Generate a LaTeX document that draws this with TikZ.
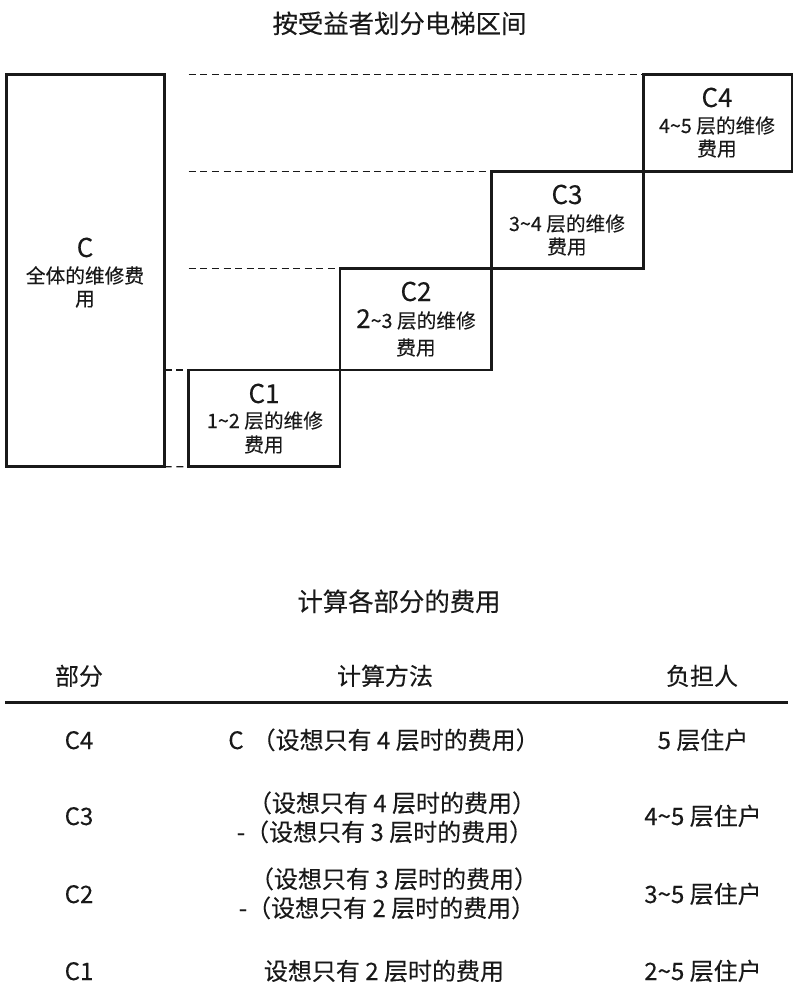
\documentclass[tikz,border=0pt]{standalone}
\usepackage{fontspec}
\setmainfont{Noto Sans CJK SC}[FakeBold=0.2]
\tikzset{
  stepbox/.style={draw=black!90,line width=2.9pt,inner sep=0pt,outer sep=0pt,anchor=north west},
  guide/.style={draw=black!90,line width=1.3pt,dash pattern=on 7pt off 4.6pt},
  rulehead/.style={draw=black!90,line width=3pt},
  txt/.style={anchor=base,inner sep=0pt,text=black!90},
  title/.style={txt,font=\fontsize{25.4}{27}\selectfont},
  big/.style={txt,font=\fontsize{26}{27}\selectfont},
  small/.style={txt,font=\fontsize{19.7}{21}\selectfont},
  cell/.style={txt,font=\fontsize{24}{25}\selectfont},
}
\begin{document}
\begin{tikzpicture}[x=1pt,y=-1pt]
\useasboundingbox (0,0) rectangle (800,1000);
% boxes
\node[stepbox,minimum width=158pt,minimum height=392.4pt] (C)  at (6.7,74.3) {};
\node[stepbox,minimum width=151.3pt,minimum height=96.7pt] (B1) at (188.7,370) {};
\node[stepbox,minimum width=151.7pt,minimum height=101.7pt] (B2) at (340,268.3) {};
\node[stepbox,minimum width=151.6pt,minimum height=96.6pt] (B3) at (491.7,171.7) {};
\node[stepbox,minimum width=148.7pt,minimum height=97.4pt] (B4) at (643.3,74.3) {};
% guides
\coordinate (g4) at (188.7,74.3);
\coordinate (g3) at (188.7,171.7);
\coordinate (g2) at (188.7,268.3);
\draw[guide] (g4) -- (B4.north west);
\draw[guide] (g3) -- (B3.north west);
\draw[guide] (g2) -- (B2.north west);
\draw[guide] (C.east |- B1.north west) -- (B1.north west);
\draw[guide] (C.south east) -- (B1.south west);
% titles
\node[title] (t1) at (399.5,33) {按受益者划分电梯区间};
\node[title] (t2) at (399,611) {计算各部分的费用};
% box texts
\node[big]   (c0a) at (85,257)  {C};
\node[small] (c0b) at (85,283)  {全体的维修费};
\node[small] (c0c) at (85,306)  {用};
\node[big]   (c1a) at (264,403) {C1};
\node[small] (c1b) at (265,428) {1\textasciitilde{}2 层的维修};
\node[small] (c1c) at (264,452) {费用};
\node[big]   (c2a) at (416,301) {C2};
\node[small] (c2b) at (416,328) {{\fontsize{26}{27}\selectfont 2}\textasciitilde{}3 层的维修};
\node[small] (c2c) at (416,355) {费用};
\node[big]   (c3a) at (567,204) {C3};
\node[small] (c3b) at (567,231) {3\textasciitilde{}4 层的维修};
\node[small] (c3c) at (567,254) {费用};
\node[big]   (c4a) at (717,107) {C4};
\node[small] (c4b) at (717,133) {4\textasciitilde{}5 层的维修};
\node[small] (c4c) at (717,156) {费用};
% table
\node[cell] (h1) at (79,685)  {部分};
\node[cell] (h2) at (385,685) {计算方法};
\node[cell] (h3) at (702,685) {负担人};
\coordinate (r1) at (5,702);
\coordinate (r2) at (788,702);
\draw[rulehead] (r1) -- (r2);
\node[cell] (a1) at (79,749) {C4};
\node[cell] (a2) at (384,749) {C\hspace{8pt}（设想只有 4 层时的费用）};
\node[cell] (a3) at (703,749) {5 层住户};
\node[cell] (b1) at (79,825) {C3};
\node[cell] (b2) at (392,812) {（设想只有 4 层时的费用）};
\node[cell] (b2b) at (385,841) {-（设想只有 3 层时的费用）};
\node[cell] (b3) at (703,825) {4\textasciitilde{}5 层住户};
\node[cell] (d1) at (79,903) {C2};
\node[cell] (d2) at (394,888) {（设想只有 3 层时的费用）};
\node[cell] (d2b) at (387,917) {-（设想只有 2 层时的费用）};
\node[cell] (d3) at (703,903) {3\textasciitilde{}5 层住户};
\node[cell] (e1) at (79,980) {C1};
\node[cell] (e2) at (384,980) {设想只有 2 层时的费用};
\node[cell] (e3) at (703,980) {2\textasciitilde{}5 层住户};
\end{tikzpicture}
\end{document}
